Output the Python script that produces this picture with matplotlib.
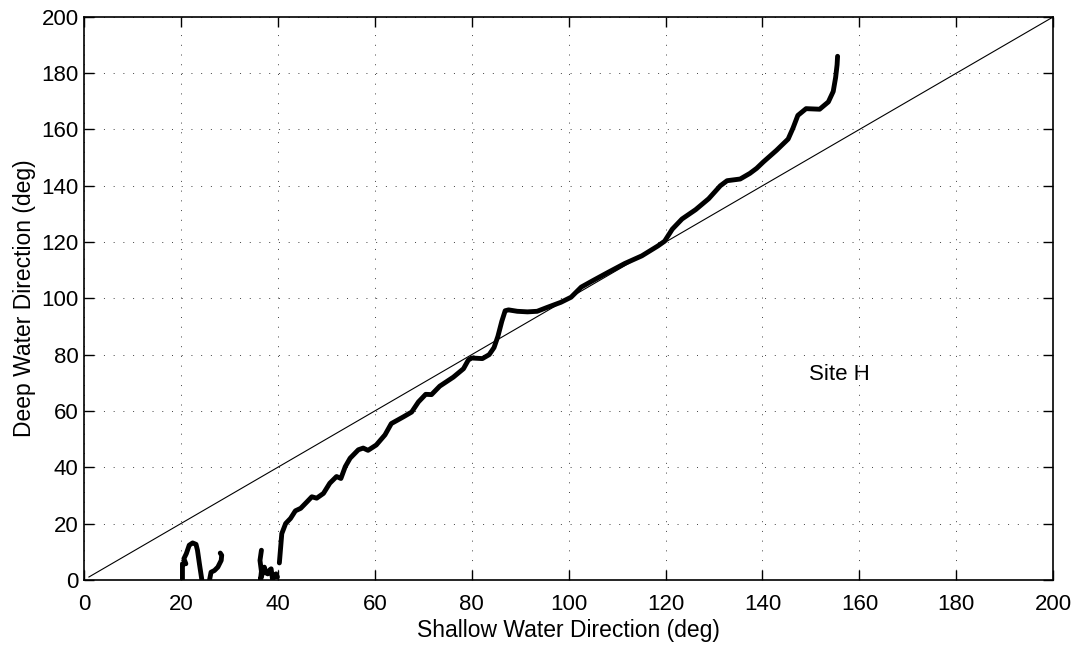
import numpy as np
import matplotlib
matplotlib.use('Agg')
import matplotlib.pyplot as plt

plt.rcParams['font.family'] = ['Liberation Sans', 'DejaVu Sans']

# main curve (shallow vs deep water direction)
main_x = [40.3, 40.8, 41.6, 42.6, 43.6, 44.7, 46.0, 47.0, 48.0, 49.4, 50.7, 52.1, 53.0,
          53.9, 54.9, 56.6, 57.6, 58.6, 60.3, 62.1, 63.4, 65.9, 67.6, 69.0, 70.5, 71.7,
          73.4, 76.2, 78.3, 79.3, 80.0, 82.2, 83.6, 84.6, 85.4, 86.2, 86.9, 87.6, 89.4,
          91.5, 93.5, 95.6, 98.4, 100.5, 102.6, 105.0, 108.1, 111.6, 115.1, 118.4, 119.8,
          121.4, 123.4, 126.2, 128.9, 131.3, 132.7, 135.4, 137.4, 138.8, 140.2, 142.9,
          145.3, 146.3, 147.3, 149.0, 151.8, 153.6, 154.6, 155.1, 155.4, 155.5]
main_y = [6.0, 16.4, 20.0, 21.8, 24.5, 25.4, 27.7, 29.5, 29.0, 30.7, 34.3, 36.7, 36.0,
          40.2, 43.2, 46.2, 46.8, 46.0, 47.9, 51.5, 55.5, 57.9, 59.6, 63.2, 65.9, 65.8,
          68.8, 72.0, 75.0, 78.1, 78.8, 78.6, 80.0, 82.5, 86.5, 91.8, 95.6, 95.9, 95.4,
          95.2, 95.4, 96.8, 98.6, 100.4, 104.0, 106.3, 109.2, 112.4, 115.1, 118.6, 120.3,
          124.6, 128.2, 131.5, 135.4, 140.0, 141.8, 142.4, 144.4, 146.2, 148.5, 152.6,
          156.6, 160.5, 165.0, 167.4, 167.2, 169.8, 173.5, 178.5, 183.0, 186.0]

# short pieces near the bottom (direction wrap-around)
seg1_x = [20.3, 20.3, 21.0, 20.6, 21.1, 21.7, 22.4, 23.1, 23.4, 23.8, 24.3]
seg1_y = [0.0, 5.7, 5.7, 7.5, 9.3, 12.3, 13.1, 12.6, 10.5, 5.7, 0.0]
seg2_x = [25.9, 26.2, 26.9, 27.6, 28.3, 28.4, 28.1]
seg2_y = [0.0, 2.7, 3.3, 4.5, 6.9, 8.7, 9.5]
seg3_x = [36.6, 36.3, 36.6, 36.4, 37.2, 37.5, 37.9, 38.3, 38.6, 38.9, 39.3, 39.6, 39.9]
seg3_y = [10.5, 6.9, 3.0, 0.0, 4.5, 2.5, 2.1, 3.5, 3.9, 0.0, 1.5, 2.1, 1.0]

# 1:1 reference line
ref_x = [1, 200]
ref_y = [1, 200]

fig = plt.figure(figsize=(10.78, 6.5), dpi=100)
ax = fig.add_axes([0.078, 0.108, 0.899, 0.866])

ax.plot(ref_x, ref_y, color='black', lw=0.8)
for xs, ys in [(seg1_x, seg1_y), (seg2_x, seg2_y), (seg3_x, seg3_y), (main_x, main_y)]:
    ax.plot(xs, ys, color='black', lw=3.5, solid_capstyle='round', solid_joinstyle='round')

ax.set_xlim(0, 200)
ax.set_ylim(0, 200)
ax.set_xticks(np.arange(0, 201, 20))
ax.set_yticks(np.arange(0, 201, 20))
ax.grid(True, color='0.25', linestyle=(0, (1, 9)), lw=0.7)
ax.tick_params(direction='in', length=7, width=1, top=True, right=True, labelsize=16)
ax.tick_params(axis='x', pad=10)
ax.tick_params(axis='y', pad=4)
for s in ax.spines.values():
    s.set_linewidth(1.2)

ax.set_xlabel('Shallow Water Direction (deg)', fontsize=16.5, labelpad=3)
ax.set_ylabel('Deep Water Direction (deg)', fontsize=16.5, labelpad=4)
ax.text(149.5, 73, 'Site H', fontsize=16, ha='left', va='center')

fig.savefig('out.png', dpi=100)
